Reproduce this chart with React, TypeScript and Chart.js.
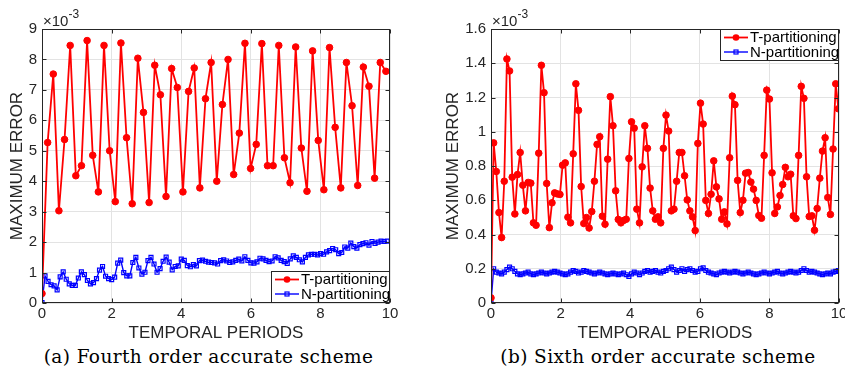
import React, { useEffect, useRef } from "react";
import { Chart, registerables } from "chart.js";
Chart.register(...registerables);

// ---------------- Data (error values in units of 1e-3) ----------------
const xTickValues = [0, 2, 4, 6, 8, 10];
const yTicksA = [0, 1, 2, 3, 4, 5, 6, 7, 8, 9];
const yTicksB = [0, 0.2, 0.4, 0.6, 0.8, 1, 1.2, 1.4, 1.6];

const seriesLabels = ["T-partitioning", "N-partitioning"];
const captions = ["(a) Fourth order accurate scheme", "(b) Sixth order accurate scheme"];
const xTitle = "TEMPORAL PERIODS";
const yTitle = "MAXIMUM ERROR";

// temporal spacing of the samples (periods)
const stepAT = 0.162;
const stepAN = 0.087;
const stepB = 0.0762;

// (a) fourth order, T-partitioning
const aT = [
  0.31, 5.27, 7.52, 3.03, 5.37, 8.46, 4.18, 4.51, 8.62, 4.85,
  3.65, 8.46, 5.0, 3.33, 8.54, 5.43, 3.26, 8.04, 6.26, 3.3,
  7.81, 6.84, 3.5, 7.7, 7.08, 3.65, 6.95, 7.72, 3.78, 6.71,
  7.9, 4.0, 6.52, 8.0, 4.22, 5.58, 8.53, 4.42, 5.21, 8.52,
  4.51, 4.51, 8.46, 4.77, 3.95, 8.41, 5.09, 3.67, 8.28, 5.34,
  3.72, 8.39, 5.77, 3.78, 7.9, 6.48, 3.86, 7.75, 7.12, 4.1,
  7.9, 7.61,
];
// (a) fourth order, N-partitioning
const aN = [
  0.01, 0.89, 0.71, 0.6, 0.56, 0.43, 0.86, 1.02, 0.78, 0.63,
  0.58, 0.58, 0.82, 1.02, 0.93, 0.74, 0.63, 0.67, 0.8, 1.08,
  1.2, 0.88, 0.8, 0.77, 0.85, 1.31, 1.41, 1.0, 0.89, 0.89,
  1.33, 1.5, 1.15, 0.95, 1.01, 1.39, 1.5, 1.28, 1.01, 1.13,
  1.37, 1.51, 1.34, 1.09, 1.2, 1.22, 1.44, 1.4, 1.23, 1.19,
  1.26, 1.22, 1.39, 1.41, 1.37, 1.34, 1.33,
  1.32, 1.28, 1.39, 1.42, 1.38, 1.33, 1.35, 1.4, 1.44, 1.38,
  1.52, 1.4, 1.32, 1.31, 1.35, 1.47, 1.45, 1.4, 1.36, 1.38,
  1.52, 1.48, 1.4, 1.36, 1.3, 1.45, 1.55, 1.5, 1.42, 1.35,
  1.5, 1.58, 1.6, 1.6, 1.58, 1.62, 1.6, 1.68, 1.72, 1.79,
  1.75, 1.62, 1.66, 1.84, 1.8, 1.97, 1.85, 1.8, 1.92, 1.95,
  1.98, 1.9, 2.02, 1.96, 2.0, 2.03, 2.02, 2.03,
];
// (b) sixth order, T-partitioning
const bT = [
  0.03, 0.935, 0.768, 0.528, 0.382, 0.711, 1.425, 1.355, 0.735, 0.52,
  0.75, 0.879, 0.688, 0.538, 0.704, 0.7, 0.468, 0.454, 0.875, 1.388,
  1.228, 0.698, 0.44, 0.585, 0.643, 0.637, 0.634, 0.805, 0.818, 0.501,
  0.468, 0.871, 1.28, 1.125, 0.68, 0.464, 0.499, 0.438, 0.534, 0.711,
  0.926, 0.971, 0.507, 0.46, 0.84,
  1.205, 1.035, 0.655, 0.488, 0.468, 0.482, 0.489, 0.844, 1.058, 1.021,
  0.548, 0.468, 0.795, 1.035, 0.903, 0.671, 0.538, 0.489, 0.503, 0.468,
  0.903, 1.097, 1.004, 0.538, 0.548, 0.711, 0.879, 0.879, 0.743, 0.602,
  0.538, 0.503, 0.423, 0.932, 1.167, 1.045, 0.599, 0.523, 0.635, 0.83,
  0.678, 0.608, 0.489,
  0.532, 0.462, 0.848, 1.208, 1.158, 0.716, 0.528, 0.6, 0.758, 0.762,
  0.706, 0.665, 0.599, 0.511, 0.495, 0.862, 1.243, 1.191, 0.76, 0.523,
  0.561, 0.628, 0.692, 0.792, 0.737, 0.752, 0.509, 0.493, 0.862, 1.265,
  1.195, 0.737, 0.505, 0.509, 0.425, 0.552, 0.729, 0.887, 0.965, 0.616,
  0.517, 0.899, 1.28, 1.134,
];
// (b) sixth order, N-partitioning
const bN = [
  0.0,
  0.2, 0.18, 0.175, 0.17, 0.18, 0.195, 0.21, 0.2, 0.185, 0.17,
  0.165, 0.17, 0.175, 0.18, 0.17, 0.165, 0.17, 0.175, 0.18, 0.175,
  0.17, 0.175, 0.18, 0.185, 0.18, 0.175, 0.17, 0.165, 0.17, 0.18,
  0.19, 0.185, 0.175, 0.18, 0.19, 0.185, 0.18, 0.175, 0.17, 0.175,
  0.18, 0.175, 0.17, 0.165, 0.17, 0.175, 0.17, 0.165, 0.17, 0.175,
  0.165, 0.155, 0.17, 0.18, 0.175, 0.165, 0.175, 0.185, 0.19, 0.18,
  0.185, 0.19, 0.18, 0.175, 0.185, 0.19, 0.2, 0.21, 0.195, 0.18,
  0.19, 0.2, 0.185, 0.195, 0.2, 0.19, 0.18, 0.185, 0.2, 0.205,
  0.19, 0.18, 0.175, 0.17, 0.165, 0.175, 0.18, 0.185, 0.18, 0.175,
  0.18, 0.185, 0.18, 0.175, 0.17, 0.175, 0.18, 0.175, 0.17, 0.165,
  0.17, 0.175, 0.18, 0.175, 0.17, 0.175, 0.18, 0.185, 0.175, 0.17,
  0.175, 0.18, 0.185, 0.18, 0.175, 0.18, 0.19, 0.2, 0.19, 0.18,
  0.185, 0.18, 0.175, 0.17, 0.165, 0.17, 0.175, 0.17, 0.18, 0.185, 0.19,
];

// ---------------- Styling ----------------
const SANS = '"Liberation Sans", Arial, sans-serif';
const AXIS_COLOR = "#262626";
const GRID_COLOR = "#e3e3e3";
const RED = "#ff0000";
const BLUE = "#0000ff";
const CANVAS_H = 344;
const PLOT_BOTTOM = 303;

type Spec = {
  left: number;
  width: number;
  yAxisWidth: number;
  padRight: number;
  yMax: number;
  yTicks: number[];
  tData: number[];
  tStep: number;
  nData: number[];
  nStep: number;
  legendCorner: "br" | "tr";
};

const specs: Spec[] = [
  { left: 0, width: 420, yAxisWidth: 42, padRight: 30, yMax: 9, yTicks: yTicksA,
    tData: aT, tStep: stepAT, nData: aN, nStep: stepAN, legendCorner: "br" },
  { left: 436, width: 409, yAxisWidth: 55, padRight: 6, yMax: 1.6, yTicks: yTicksB,
    tData: bT, tStep: stepB, nData: bN, nStep: stepB, legendCorner: "tr" },
];

function toPoints(vals: number[], step: number) {
  return vals.map((v, i) => ({ x: i * step, y: v }));
}

function drawMarker(ctx: CanvasRenderingContext2D, kind: "circle" | "square", x: number, y: number, color: string) {
  ctx.save();
  ctx.strokeStyle = color;
  ctx.fillStyle = color;
  ctx.lineWidth = 1.2;
  if (kind === "circle") {
    ctx.beginPath();
    ctx.arc(x, y, 3.3, 0, Math.PI * 2);
    ctx.fill();
  } else {
    ctx.strokeRect(x - 2, y - 2, 4, 4);
  }
  ctx.restore();
}

function makeConfig(spec: Spec): any {
  const decorPlugin = {
    id: "decor",
    afterDatasetsDraw(chart: any) {
      const ctx = chart.ctx as CanvasRenderingContext2D;
      const a = chart.chartArea;
      const xs = chart.scales.x;
      const ys = chart.scales.y;
      ctx.save();
      ctx.strokeStyle = AXIS_COLOR;
      ctx.lineWidth = 1;
      const L = Math.round(a.left) + 0.5;
      const R = Math.round(a.right) - 0.5;
      const T = Math.round(a.top) + 0.5;
      const B = Math.round(a.bottom) - 0.5;
      ctx.strokeRect(L, T, R - L, B - T);
      ctx.beginPath();
      xTickValues.forEach((v) => {
        const px = Math.round(xs.getPixelForValue(v)) + 0.5;
        ctx.moveTo(px, B); ctx.lineTo(px, B - 4);
        ctx.moveTo(px, T); ctx.lineTo(px, T + 4);
      });
      spec.yTicks.forEach((v) => {
        const py = Math.round(ys.getPixelForValue(v)) + 0.5;
        ctx.moveTo(L, py); ctx.lineTo(L + 4, py);
        ctx.moveTo(R, py); ctx.lineTo(R - 4, py);
      });
      ctx.stroke();
      ctx.restore();
    },
    afterDraw(chart: any) {
      const ctx = chart.ctx as CanvasRenderingContext2D;
      const a = chart.chartArea;
      // exponent label
      ctx.save();
      ctx.fillStyle = AXIS_COLOR;
      ctx.textBaseline = "alphabetic";
      ctx.textAlign = "left";
      ctx.font = `15px ${SANS}`;
      ctx.fillText("\u00d710", a.left + 1, 26);
      const w = ctx.measureText("\u00d710").width;
      ctx.font = `12px ${SANS}`;
      ctx.fillText("-3", a.left + 1 + w, 18);
      ctx.restore();

      // legend
      const bw = 119, bh = 32;
      const bx = a.right - bw;
      const by = spec.legendCorner === "br" ? a.bottom - bh : a.top;
      ctx.save();
      ctx.fillStyle = "#ffffff";
      ctx.fillRect(bx, by, bw, bh);
      ctx.strokeStyle = AXIS_COLOR;
      ctx.lineWidth = 1;
      ctx.strokeRect(Math.round(bx) + 0.5, Math.round(by) + 0.5, bw - 1, bh - 1);
      const rows: { c: string; m: "circle" | "square"; lw: number }[] = [
        { c: RED, m: "circle", lw: 1.8 },
        { c: BLUE, m: "square", lw: 1.4 },
      ];
      rows.forEach((r, i) => {
        const ly = by + 8.5 + i * 14.5;
        ctx.strokeStyle = r.c;
        ctx.lineWidth = r.lw;
        ctx.beginPath();
        ctx.moveTo(bx + 4, ly);
        ctx.lineTo(bx + 28, ly);
        ctx.stroke();
        drawMarker(ctx, r.m, bx + 16, ly, r.c);
        ctx.fillStyle = "#000";
        ctx.font = `15px ${SANS}`;
        ctx.textBaseline = "middle";
        ctx.textAlign = "left";
        ctx.fillText(seriesLabels[i], bx + 30, ly + 0.5);
      });
      ctx.restore();
    },
  };

  return {
    type: "line",
    data: {
      datasets: [
        {
          label: seriesLabels[0],
          data: toPoints(spec.tData, spec.tStep),
          borderColor: RED,
          backgroundColor: RED,
          borderWidth: 1.8,
          pointRadius: 3.3,
          pointStyle: "circle",
          pointBackgroundColor: RED,
          pointBorderColor: RED,
          pointBorderWidth: 1,
          tension: 0,
        },
        {
          label: seriesLabels[1],
          data: toPoints(spec.nData, spec.nStep),
          borderColor: BLUE,
          backgroundColor: "rgba(0,0,0,0)",
          borderWidth: 1.4,
          pointRadius: 2.8,
          pointStyle: "rect",
          pointBackgroundColor: "rgba(0,0,0,0)",
          pointBorderColor: BLUE,
          pointBorderWidth: 1.2,
          tension: 0,
        },
      ],
    },
    options: {
      animation: false,
      responsive: false,
      devicePixelRatio: 1,
      layout: { padding: { top: 29, right: spec.padRight, bottom: 0, left: 0 } },
      plugins: { legend: { display: false }, tooltip: { enabled: false } },
      scales: {
        x: {
          type: "linear",
          min: 0,
          max: 10,
          afterBuildTicks: (s: any) => {
            s.ticks = xTickValues.map((v) => ({ value: v }));
          },
          ticks: {
            color: AXIS_COLOR,
            font: { family: SANS, size: 15 },
            padding: 2,
            maxRotation: 0,
            autoSkip: false,
            callback: (v: any) => String(v),
          },
          grid: { color: GRID_COLOR, drawTicks: false, lineWidth: 1 },
          border: { display: false },
          title: {
            display: true,
            text: xTitle,
            color: AXIS_COLOR,
            font: { family: SANS, size: 17 },
            padding: { top: 0, bottom: 0 },
          },
          afterFit: (s: any) => {
            s.height = CANVAS_H - PLOT_BOTTOM;
            s.paddingLeft = 0;
            s.paddingRight = 0;
          },
        },
        y: {
          type: "linear",
          min: 0,
          max: spec.yMax,
          afterBuildTicks: (s: any) => {
            s.ticks = spec.yTicks.map((v) => ({ value: v }));
          },
          ticks: {
            color: AXIS_COLOR,
            font: { family: SANS, size: 15 },
            padding: 5,
            autoSkip: false,
            callback: (v: any) => String(Number(Number(v).toFixed(1))),
          },
          grid: { color: GRID_COLOR, drawTicks: false, lineWidth: 1 },
          border: { display: false },
          title: {
            display: true,
            text: yTitle,
            color: AXIS_COLOR,
            font: { family: SANS, size: 17 },
            padding: { top: 7.3, bottom: 0 },
          },
          afterFit: (s: any) => {
            s.width = spec.yAxisWidth;
            s.paddingTop = 0;
            s.paddingBottom = 0;
          },
        },
      },
    },
    plugins: [decorPlugin],
  };
}

function Panel({ spec }: { spec: Spec }) {
  const ref = useRef<HTMLCanvasElement>(null);
  useEffect(() => {
    const chart = new Chart(ref.current as HTMLCanvasElement, makeConfig(spec));
    return () => chart.destroy();
  }, [spec]);
  return (
    <canvas
      ref={ref}
      width={spec.width}
      height={CANVAS_H}
      style={{ position: "absolute", left: spec.left, top: 0, width: spec.width, height: CANVAS_H }}
    />
  );
}

export default function App() {
  const captionStyle: React.CSSProperties = {
    position: "absolute",
    top: 346,
    textAlign: "center",
    fontFamily: '"DejaVu Serif", serif',
    fontSize: 18.5,
    letterSpacing: "0.4px",
    lineHeight: "22px",
    color: "#000",
    whiteSpace: "nowrap",
  };
  return (
    <div
      style={{
        position: "absolute",
        left: 0,
        top: 0,
        width: 845,
        height: 374,
        background: "#ffffff",
        overflow: "hidden",
      }}
    >
      <Panel spec={specs[0]} />
      <Panel spec={specs[1]} />
      <div style={{ ...captionStyle, left: 0, width: 417 }}>{captions[0]}</div>
      <div style={{ ...captionStyle, left: 448, width: 420 }}>{captions[1]}</div>
    </div>
  );
}
